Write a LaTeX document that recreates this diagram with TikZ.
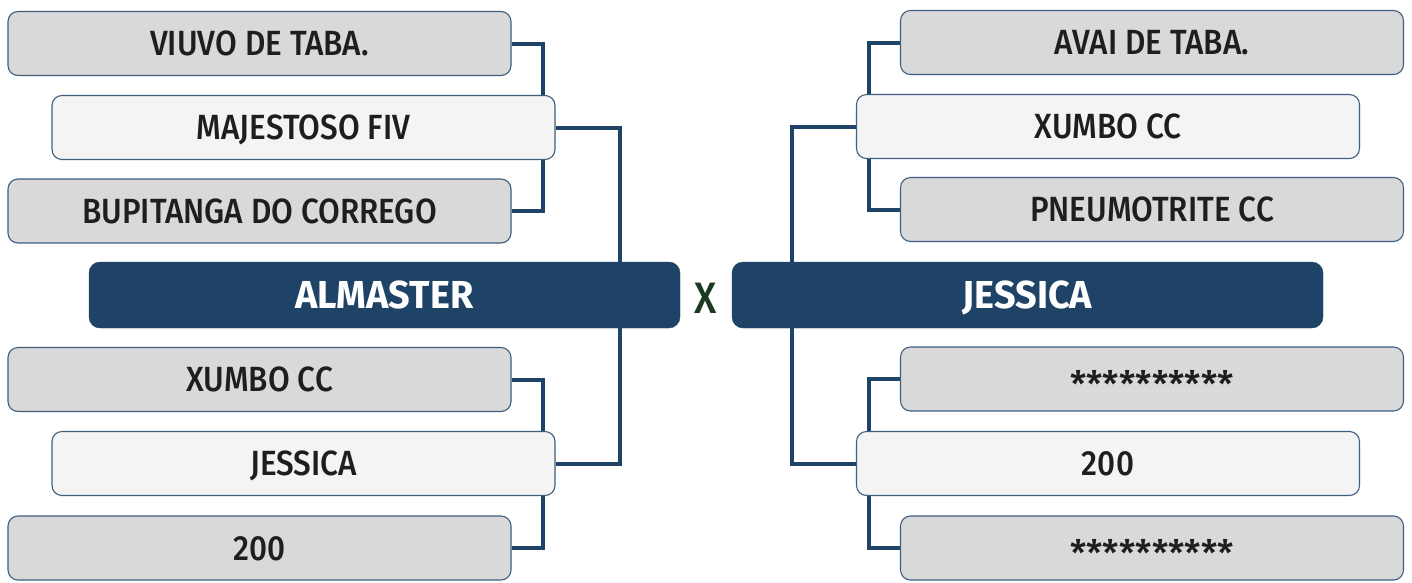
\documentclass[tikz,border=0pt]{standalone}
\usepackage{fontspec}
\setmainfont{Fira Sans}[UprightFont=* Medium, BoldFont=* Bold, FakeStretch=0.9]
\newfontfamily\headfont{Fira Sans}[UprightFont=* Bold, FakeStretch=0.97]
\newfontfamily\starfont{Fira Sans}[UprightFont=* Medium]
\newfontfamily\vsfont{Fira Sans}[UprightFont=* Medium, FakeStretch=0.9]
\usetikzlibrary{backgrounds}
\definecolor{navy}{HTML}{1F4366}
\definecolor{edge}{HTML}{3E5F7E}
\definecolor{boxgray}{HTML}{D9D9D9}
\definecolor{boxlight}{HTML}{F4F4F4}
\definecolor{txt}{HTML}{1E1E1E}
\definecolor{xgreen}{HTML}{1B3A22}
\tikzset{
  base/.style={rounded corners=10pt, draw=edge, line width=1.1pt, minimum width=503pt, minimum height=64pt, inner sep=0pt, text height=24pt, text depth=0pt, text=txt, font=\fontsize{35}{40}\selectfont},
  graybox/.style={base, fill=boxgray},
  lightbox/.style={base, fill=boxlight},
  finalbox/.style={rounded corners=11pt, fill=navy, draw=navy, minimum width=591pt, minimum height=66pt, inner sep=0pt, text height=26.5pt, text depth=0pt, text=white, font=\fontsize{39}{44}\headfont},
  link/.style={draw=navy, line width=4pt},
  stars/.style={graybox, text height=36pt, font=\fontsize{36.5}{40}\starfont}
}
\begin{document}
\begin{tikzpicture}[x=1pt, y={(0pt,-1pt)}]
\useasboundingbox (0,0) rectangle (1412,582);
% left side
\node[graybox] (v1) at (259.5,43.5) {VIUVO DE TABA.};
\node[lightbox] (m1) at (303.5,127.5) {MAJESTOSO FIV};
\node[graybox] (v3) at (259.5,211) {BUPITANGA DO CORREGO};
\node[finalbox] (al) at (384.5,295) {ALMASTER};
\node[graybox] (lx) at (259.5,379.5) {XUMBO CC};
\node[lightbox] (lj) at (303.5,463.5) {JESSICA};
\node[graybox] (l200) at (259.5,548) {200};
% right side
\node[graybox] (avai) at (1152,42.5) {AVAI DE TABA.};
\node[lightbox] (xc) at (1108,126.5) {XUMBO CC};
\node[graybox] (pn) at (1152,209.5) {PNEUMOTRITE CC};
\node[finalbox] (js) at (1027.5,295) {JESSICA};
\node[stars] (s1) at (1152,379) {**********};
\node[lightbox] (r200) at (1108,463.5) {200};
\node[stars] (s2) at (1152,548) {**********};
% versus
\node[text=xgreen, font=\fontsize{44}{48}\vsfont, inner sep=0pt, text height=30pt, text depth=0pt] (vs) at (706,298) {X};
\begin{scope}[on background layer]
\fill[white] (0,0) rectangle (1412,582);
\draw[link] (v1.east) -- ++(31,0) |- (v3.east);
\draw[link] (m1.east) -- ++(64,0) |- (lj.east);
\draw[link] (lx.east) -- ++(31,0) |- (l200.east);
\draw[link] (avai.west) -- ++(-31,0) |- (pn.west);
\draw[link] (xc.west) -- ++(-64,0) |- (r200.west);
\draw[link] (s1.west) -- ++(-31,0) |- (s2.west);
\end{scope}
\end{tikzpicture}
\end{document}
